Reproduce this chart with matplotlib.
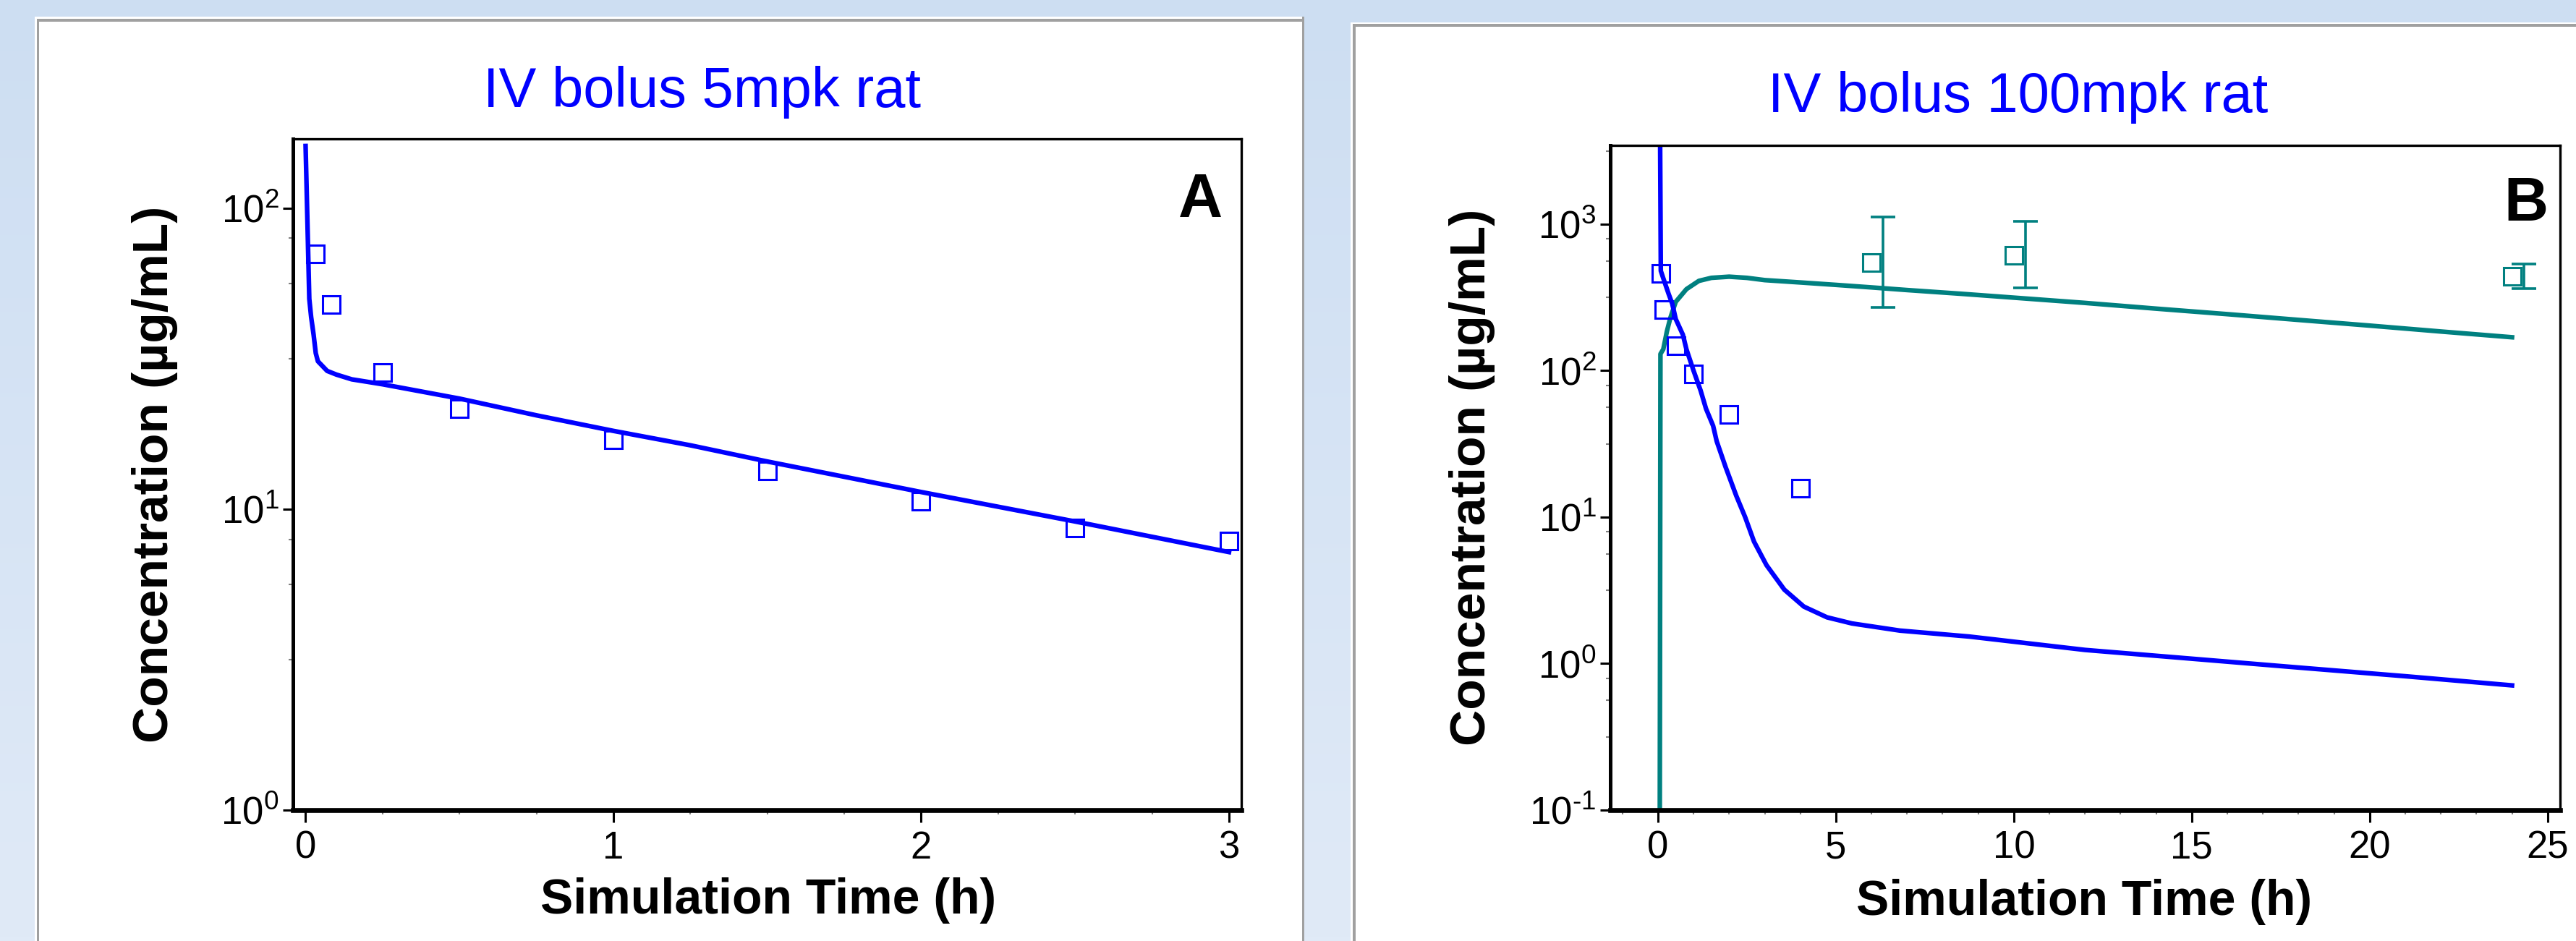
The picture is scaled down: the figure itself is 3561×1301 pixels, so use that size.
"""
Recreate the two-panel rat IV bolus PK figure (5 and 100 mpk).

Panel A: plasma concentration after 5 mpk, 0-3 h.
Panel B: parent (blue) and metabolite (teal) after 100 mpk, 0-24 h.
"""

import numpy as np
import matplotlib
matplotlib.use('Agg')
import matplotlib.pyplot as plt
from matplotlib.patches import Rectangle
from matplotlib.ticker import FixedLocator, FuncFormatter, NullFormatter

plt.rcParams['font.family'] = ['Liberation Sans', 'DejaVu Sans']
plt.rcParams['mathtext.fontset'] = 'custom'
plt.rcParams['mathtext.rm'] = 'Liberation Sans'
plt.rcParams['mathtext.default'] = 'regular'
plt.rcParams['axes.unicode_minus'] = False

# ---- data ----
# Panel A, 5 mpk
a_obs_time = [0.033, 0.083, 0.25, 0.5, 1.0, 1.5, 2.0, 2.5, 3.0]
a_obs_conc = [70.6, 48.0, 28.5, 21.6, 17.0, 13.4, 10.6, 8.66, 7.82]
a_sim_time = [0.0, 0.012, 0.018, 0.026, 0.033, 0.04, 0.07, 0.1, 0.15, 0.2,
              0.25, 0.5, 0.75, 1.0, 1.25, 1.5, 2.0, 2.5, 3.0]
a_sim_conc = [161, 50, 43.5, 38, 33, 31, 28.8, 28, 27, 26.5,
              26, 23.3, 20.5, 18.2, 16.3, 14.4, 11.4, 9.1, 7.2]

# Panel B, 100 mpk - parent
b_obs_time = [0.083, 0.167, 0.5, 1.0, 2.0, 4.0]
b_obs_conc = [459, 260, 148, 95, 50.2, 15.7]
b_sim_time = [0.06, 0.08, 0.15, 0.3, 0.4, 0.5, 0.7, 0.8, 1.0, 1.2, 1.35,
              1.55, 1.65, 1.9, 2.2, 2.45, 2.7, 3.05, 3.55, 4.1, 4.75, 5.45,
              6.8, 8.75, 12.0, 15.0, 18.0, 21.0, 24.0]
b_sim_conc = [4000, 480, 427, 334, 287, 225, 176, 140, 100, 73, 55,
              42, 33, 22, 14, 10, 6.8, 4.7, 3.2, 2.45, 2.07, 1.88,
              1.68, 1.53, 1.24, 1.08, 0.94, 0.82, 0.71]

# Panel B, 100 mpk - metabolite
m_obs_time = [6.0, 10.0, 24.0]
m_obs_conc = [550, 614, 441]
m_obs_hi = [1120, 1046, 532]
m_obs_lo = [270, 366, 365]
m_sim_time = [0.05, 0.07, 0.15, 0.25, 0.35, 0.5, 0.8, 1.15, 1.5, 2.0, 2.5,
              3.0, 4.0, 5.0, 6.0, 7.0, 8.5, 10.0, 12.0, 14.0, 16.0, 18.0,
              20.0, 22.0, 24.0]
m_sim_conc = [0.05, 130, 140, 185, 230, 295, 360, 410, 430, 438, 430,
              415, 400, 385, 370, 355, 335, 315, 290, 265, 243, 222,
              203, 185, 169]

BLUE = '#0000FF'
TEAL = '#008080'
W, H = 3561, 1301
ERR_SHIFT = 0.33  # error bars sit slightly right of their markers


def fx(x):
    return x / W


def fy(y):
    return 1 - y / H


def add_rect(fig, x0, y0, x1, y1, color, z):
    fig.add_artist(Rectangle((fx(x0), fy(y1)), fx(x1) - fx(x0), fy(y0) - fy(y1),
                             transform=fig.transFigure, facecolor=color,
                             edgecolor='none', zorder=z))


def decade_label(v, pos):
    k = int(round(np.log10(v)))
    exp = str(k).replace('-', r'\text{-}')
    return r'$10^{%s}$' % exp


def style_axes(ax, xlim, ylim, xmajor, xminor):
    ax.set_facecolor('white')
    ax.set_yscale('log')
    ax.set_xlim(*xlim)
    ax.set_ylim(*ylim)

    ax.xaxis.set_major_locator(FixedLocator(xmajor))
    ax.xaxis.set_minor_locator(FixedLocator(xminor))

    lo, hi = int(np.floor(np.log10(ylim[0]))), int(np.ceil(np.log10(ylim[1])))
    ax.yaxis.set_major_locator(FixedLocator([10.0 ** k for k in range(lo, hi + 1)]))
    minors = [10.0 ** (k - d) for k in range(lo, hi + 1) for d in (0.1, 0.25, 0.5)]
    ax.yaxis.set_minor_locator(FixedLocator(minors))
    ax.yaxis.set_major_formatter(FuncFormatter(decade_label))
    ax.yaxis.set_minor_formatter(NullFormatter())

    ax.tick_params(which='major', direction='out', width=2.2, labelsize=38, color='black')
    ax.tick_params(axis='y', which='major', length=10, pad=4)
    ax.tick_params(axis='x', which='major', length=12, pad=8)
    ax.tick_params(which='minor', direction='out', length=4.5, width=1.5, color='#808080')

    ax.spines['left'].set_linewidth(3.6)
    ax.spines['bottom'].set_linewidth(4.8)
    ax.spines['top'].set_linewidth(2.4)
    ax.spines['right'].set_linewidth(2.4)


fig = plt.figure(figsize=(W / 100, H / 100), dpi=100)

# light blue slide background
bg = fig.add_axes([0, 0, 1, 1], zorder=-5)
grad = np.linspace(0, 1, 256)[:, None]
top = np.array([205, 222, 242]) / 255
bottom = np.array([224, 234, 247]) / 255
img = top[None, None, :] * (1 - grad[..., None]) + bottom[None, None, :] * grad[..., None]
bg.imshow(np.repeat(img, 2, axis=1), aspect='auto', extent=[0, 1, 0, 1])
bg.axis('off')

# white panels with grey frames
add_rect(fig, 48, 23, 1803, H, 'white', -4)
add_rect(fig, 51, 26, 1800, 30, '#a0a0a0', -3)
add_rect(fig, 51, 26, 54, H, '#a0a0a0', -3)
add_rect(fig, 1800, 23, 1803, H, '#a0a0a0', -3)
add_rect(fig, 1867, 31, W, H, 'white', -4)
add_rect(fig, 1870, 33, W, 37, '#a0a0a0', -3)
add_rect(fig, 1870, 33, 1874, H, '#a0a0a0', -3)

# ---- panel A ----
ax_a = fig.add_axes([fx(405), fy(1120), fx(1716) - fx(405), fy(192) - fy(1120)])
style_axes(ax_a, (-0.041, 3.04), (1, 170), [0, 1, 2, 3],
           [0.25, 0.5, 0.75, 1.25, 1.5, 1.75, 2.25, 2.5, 2.75])
ax_a.plot(a_sim_time, a_sim_conc, color=BLUE, linewidth=4.6)
ax_a.plot(a_obs_time, a_obs_conc, 's', mfc='none', mec=BLUE, ms=17.5, mew=2.2)

# ---- panel B ----
ax_b = fig.add_axes([fx(2226), fy(1120), fx(3539) - fx(2226), fy(201) - fy(1120)])
style_axes(ax_b, (-1.34, 25.35), (0.1, 3450), [0, 5, 10, 15, 20, 25],
           [t for t in range(-1, 26) if t % 5 != 0])
ax_b.plot(m_sim_time, m_sim_conc, color=TEAL, linewidth=4.6)
ax_b.plot(b_sim_time, b_sim_conc, color=BLUE, linewidth=4.6)
ax_b.plot(b_obs_time, b_obs_conc, 's', mfc='none', mec=BLUE, ms=17.5, mew=2.2)
ax_b.plot(m_obs_time, m_obs_conc, 's', mfc='none', mec=TEAL, ms=17.5, mew=2.2)
err_t = [t + ERR_SHIFT for t in m_obs_time]
yerr = [np.array(m_obs_conc) - np.array(m_obs_lo), np.array(m_obs_hi) - np.array(m_obs_conc)]
ax_b.errorbar(err_t, m_obs_conc, yerr=yerr, fmt='none', ecolor=TEAL,
              elinewidth=2.6, capsize=12, capthick=2.6)

for ax in (ax_a, ax_b):
    plt.setp(ax.get_yticklabels(), va='center_baseline')

# ---- texts ----
fig.text(fx(970.7), fy(148), 'IV bolus 5mpk rat', ha='center', va='baseline',
         fontsize=56, color=BLUE)
fig.text(fx(2790), fy(155), 'IV bolus 100mpk rat', ha='center', va='baseline',
         fontsize=56, color=BLUE)

fig.text(fx(1660), fy(300), 'A', ha='center', va='baseline', fontsize=61, fontweight='bold')
fig.text(fx(3492), fy(305), 'B', ha='center', va='baseline', fontsize=61, fontweight='bold')

fig.text(fx(1062), fy(1263), 'Simulation Time (h)', ha='center', va='baseline',
         fontsize=49, fontweight='bold')
fig.text(fx(2881), fy(1265), 'Simulation Time (h)', ha='center', va='baseline',
         fontsize=49, fontweight='bold')

fig.text(fx(214), fy(656), 'Concentration (µg/mL)', rotation=90, ha='center', va='center',
         fontsize=50, fontweight='bold')
fig.text(fx(2035), fy(660), 'Concentration (µg/mL)', rotation=90, ha='center', va='center',
         fontsize=50, fontweight='bold')

fig.savefig('out.png', dpi=100)
